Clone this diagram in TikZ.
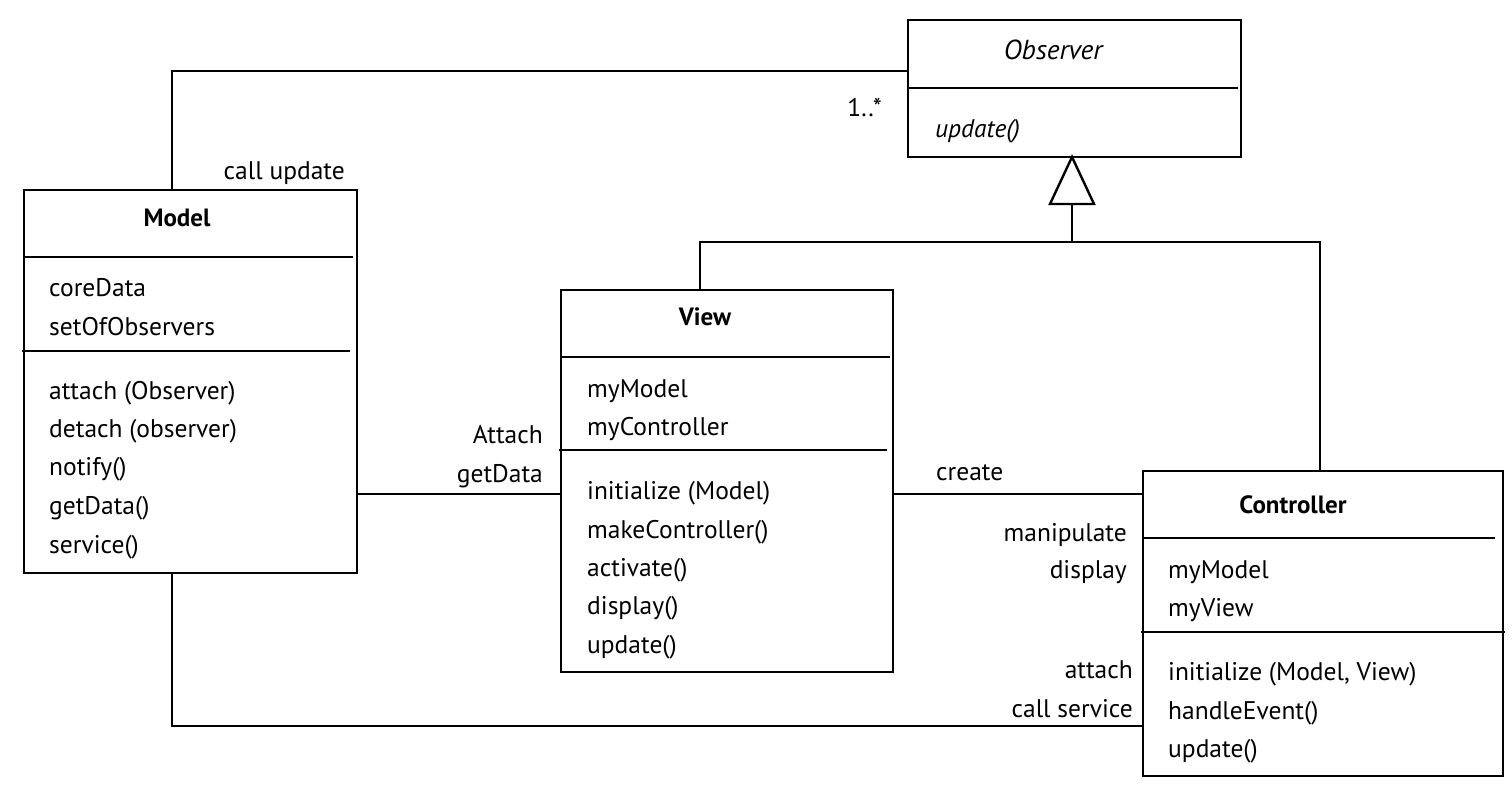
\documentclass[tikz,border=0pt]{standalone}
\usepackage{fontspec}
\setmainfont{PT Sans}
\begin{document}
\begin{tikzpicture}[x=1pt,y=-1pt,
  box/.style={draw, line width=2.4pt, inner sep=0pt, outer sep=0pt, anchor=north west},
  sep/.style={line width=2.4pt},
  conn/.style={line width=2.4pt},
  txt/.style={anchor=base west, inner sep=0pt, font=\fontsize{25.5}{28}\selectfont},
  rlbl/.style={anchor=base east, inner sep=0pt, font=\fontsize{25.5}{28}\selectfont},
  ttl/.style={anchor=base, inner sep=0pt, font=\fontsize{25}{28}\selectfont\bfseries}]
\useasboundingbox (0,0) rectangle (1512,786);

% Observer
\node[box, minimum width=333pt, minimum height=137pt] (obs) at (908,20) {};
\draw[sep] (908,88) -- (1238,88);
\node[ttl, font=\fontsize{27.5}{30}\selectfont\itshape] (obsT) at (1053,60) {Observer};
\node[txt, font=\fontsize{25.5}{28}\selectfont\itshape] (obsM) at (935,138) {update()};

% Model
\node[box, minimum width=333pt, minimum height=383pt] (model) at (24,190) {};
\draw[sep] (24,257) -- (353,257);
\draw[sep] (22,351) -- (350,351);
\node[ttl] (modelT) at (177,227) {Model};
\node[txt] (m1) at (49,297) {coreData};
\node[txt] (m2) at (49,335) {setOfObservers};
\node[txt] (m3) at (49,399) {attach (Observer)};
\node[txt] (m4) at (49,437) {detach (observer)};
\node[txt] (m5) at (49,475) {notify()};
\node[txt] (m6) at (49,514) {getData()};
\node[txt] (m7) at (49,553) {service()};

% View
\node[box, minimum width=332pt, minimum height=382pt] (view) at (561,290) {};
\draw[sep] (561,357) -- (890,357);
\draw[sep] (559,450) -- (887,450);
\node[ttl] (viewT) at (705,325) {View};
\node[txt] (v1) at (587,397) {myModel};
\node[txt] (v2) at (587,435) {myController};
\node[txt] (v3) at (587,499) {initialize (Model)};
\node[txt] (v4) at (587,538) {makeController()};
\node[txt] (v5) at (587,576) {activate()};
\node[txt] (v6) at (587,614) {display()};
\node[txt] (v7) at (587,653) {update()};

% Controller
\node[box, minimum width=360pt, minimum height=305pt] (ctrl) at (1143,471) {};
\draw[sep] (1143,538) -- (1495,538);
\draw[sep] (1141,632) -- (1505,632);
\node[ttl] (ctrlT) at (1293,513) {Controller};
\node[txt] (c1) at (1168,578) {myModel};
\node[txt] (c2) at (1168,616) {myView};
\node[txt] (c3) at (1168,680) {initialize (Model, View)};
\node[txt] (c4) at (1168,719) {handleEvent()};
\node[txt] (c5) at (1168,757) {update()};

% Connectors
\draw[conn] ([xshift=148pt]model.north west) |- (obs.west |- 0,71);
\draw[conn] (model.east |- 0,494) -- (view.west |- 0,494);
\draw[conn] (view.east |- 0,494) -- (ctrl.west |- 0,494);
\draw[conn] ([xshift=148pt]model.south west) |- (ctrl.west |- 0,726);

% Generalization
\coordinate (apex) at (obs.south -| 1072,0);
\coordinate (tbase) at (1072,204);
\coordinate (gj) at (1072,242);
\draw[conn, line join=miter] (apex) -- (1050,204) -- (1094,204) -- cycle;
\draw[conn] (tbase) -- (gj);
\draw[conn] ([xshift=139pt]view.north west) |- (gj);
\draw[conn] ([xshift=177pt]ctrl.north west) |- (gj);

% Labels
\node[rlbl] (l1) at (882,117) {1..*};
\node[rlbl] (l2) at (345,180) {call update};
\node[rlbl] (l3) at (543,443) {Attach};
\node[rlbl] (l4) at (543,482) {getData};
\node[txt] (l5) at (936,480) {create};
\node[rlbl] (l6) at (1127,541) {manipulate};
\node[rlbl] (l7) at (1127,578) {display};
\node[rlbl] (l8) at (1133,678) {attach};
\node[rlbl] (l9) at (1133,717) {call service};
\end{tikzpicture}
\end{document}
